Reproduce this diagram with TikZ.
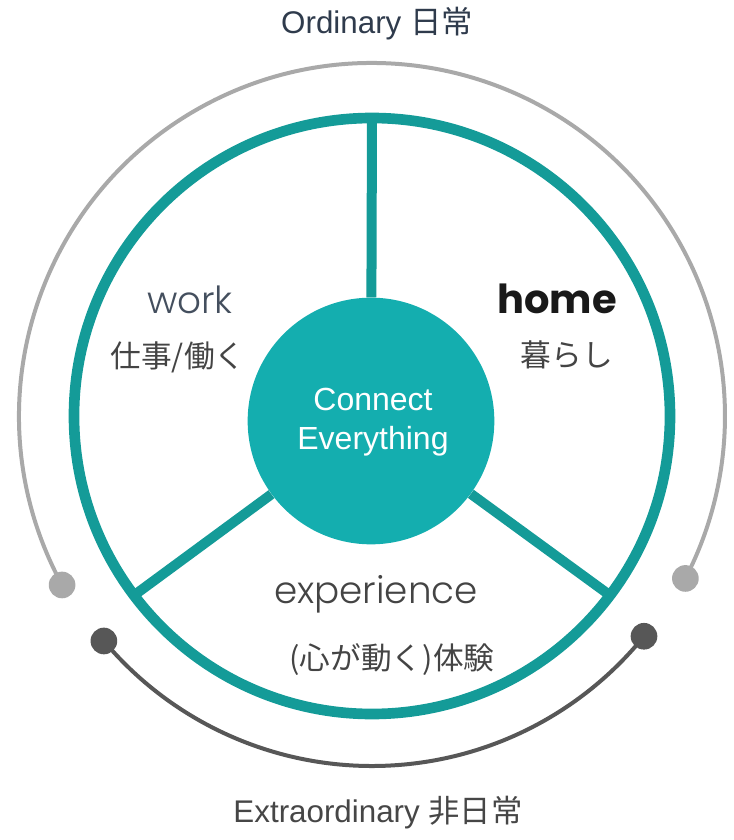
\documentclass[tikz,border=0pt]{standalone}
\usepackage{fontspec}
\setmainfont{Liberation Sans}
\newfontfamily\cjk{Noto Sans CJK JP}
\newfontfamily\lightfont{Poppins Light}
\newfontfamily\homefont{Poppins}
\definecolor{ringteal}{HTML}{149B98}
\definecolor{hubteal}{HTML}{14AEAF}
\definecolor{lightgray}{HTML}{A9A9A9}
\definecolor{darkgray}{HTML}{575757}
\definecolor{slate}{HTML}{2F3B4C}
\definecolor{jptext}{HTML}{444444}
\begin{document}
\begin{tikzpicture}[x=0.75pt,y=0.75pt,
    dot/.style={fill=#1, circle, inner sep=0pt, minimum size=20pt},
    spoke/.style={draw=ringteal, line width=7.5pt},
    jp/.style={text=jptext, font=\cjk\fontsize{23}{27}\selectfont}]
\useasboundingbox (-372,-424) rectangle (362,416);

% outer arcs
\node[dot=lightgray] (ol) at (208.6:353) {};
\node[dot=lightgray] (or) at (-27.4:353) {};
\draw[lightgray, line width=3pt] (ol.center) arc[start angle=208.6, end angle=-27.4, radius=353];
\node[dot=darkgray] (el) at (-140:350) {};
\node[dot=darkgray] (er) at (-39:350) {};
\draw[darkgray, line width=3pt] (el.center) arc[start angle=-140, end angle=-39, radius=350];

% wheel
\node[circle, fill=hubteal, minimum size=185pt, inner sep=0pt] (hub) at (-1,-5) {};
\coordinate (rtop) at (90:298);
\coordinate (rleft) at (-143:298);
\coordinate (rright) at (-37:298);
\draw[spoke] (hub) -- (rtop);
\draw[spoke] (hub) -- (rleft);
\draw[spoke] (hub) -- (rright);
\draw[ringteal, line width=8pt] (0,0) circle[radius=298];

\node[text=white, align=center, font=\fontsize{24}{29}\selectfont] (ce) at (1,-6) {Connect\\Everything};

% labels
\node[text=slate, font=\fontsize{23.5}{27}\selectfont] (ord) at (5,392) {Ordinary {\cjk 日常}};
\node[text=darkgray!80!black, font=\fontsize{23.5}{27}\selectfont] (ext) at (6,-397) {Extraordinary {\cjk 非日常}};

\node[text=slate!90, font=\lightfont\fontsize{28}{32}\selectfont, anchor=base] (work) at (-182,103) {work};
\node[jp] (workjp) at (-194,59) {仕事/働く};
\node[text=black!90, font=\homefont\bfseries\fontsize{30}{34}\selectfont, anchor=base] (home) at (185,103) {home};
\node[jp] (homejp) at (195,61) {暮らし};
\node[text=jptext, font=\lightfont\fontsize{28}{32}\selectfont, anchor=base] (exp) at (4,-187) {experience};
\node[jp] (expjp) at (20,-244) {(心が動く)体験};
\end{tikzpicture}
\end{document}
